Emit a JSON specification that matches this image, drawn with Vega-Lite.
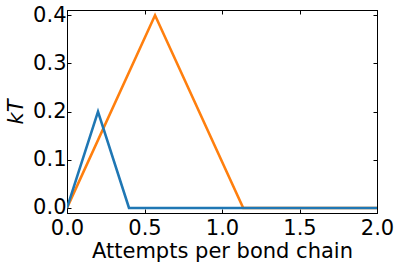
{
  "$schema": "https://vega.github.io/schema/vega-lite/v6.json",
  "width": 310,
  "height": 203,
  "autosize": "none",
  "padding": {"left": 67, "top": 10, "right": 21, "bottom": 52},
  "background": "white",
  "config": {
    "view": {"stroke": "black", "strokeWidth": 1},
    "axis": {
      "grid": false,
      "domainColor": "black",
      "domainWidth": 1,
      "tickColor": "black",
      "tickWidth": 1,
      "tickSize": -4,
      "labelFont": "DejaVu Sans",
      "labelFontSize": 21,
      "labelColor": "black",
      "titleFont": "DejaVu Sans",
      "titleFontSize": 21,
      "titleFontWeight": "normal",
      "titleColor": "black"
    }
  },
  "data": {
    "values": [
      {"x": 0, "y": 0, "s": "orange"},
      {"x": 0.568, "y": 0.4, "s": "orange"},
      {"x": 1.137, "y": 0, "s": "orange"},
      {"x": 2.0, "y": 0, "s": "orange"},
      {"x": 0, "y": 0, "s": "blue"},
      {"x": 0.2, "y": 0.2, "s": "blue"},
      {"x": 0.4, "y": 0, "s": "blue"},
      {"x": 2.0, "y": 0, "s": "blue"}
    ]
  },
  "encoding": {
    "x": {"field": "x", "type": "quantitative", "scale": {"domain": [0, 2], "nice": false, "zero": false}},
    "y": {"field": "y", "type": "quantitative", "scale": {"domain": [-0.0105, 0.411], "nice": false, "zero": false}}
  },
  "layer": [
    {
      "transform": [{"filter": "datum.s == 'orange'"}],
      "mark": {"type": "line", "color": "#ff7f0e", "strokeWidth": 2.6, "clip": true},
      "encoding": {
        "x": {"field": "x", "type": "quantitative", "axis": {"orient": "bottom", "values": [0, 0.5, 1, 1.5, 2], "format": ".1f", "title": "Attempts per bond chain", "labelPadding": 8, "titlePadding": 2, "labelFlush": false}},
        "y": {"field": "y", "type": "quantitative", "axis": {"orient": "left", "values": [0, 0.1, 0.2, 0.3, 0.4], "format": ".1f", "title": "kT", "titleFontStyle": "italic", "labelPadding": 5, "titlePadding": 6, "labelFlush": false}}
      }
    },
    {
      "transform": [{"filter": "datum.s == 'blue'"}],
      "mark": {"type": "line", "color": "#1f77b4", "strokeWidth": 2.6, "clip": true},
      "encoding": {
        "x": {"field": "x", "type": "quantitative", "axis": {"orient": "top", "values": [0, 0.5, 1, 1.5, 2], "labels": false, "title": null}},
        "y": {"field": "y", "type": "quantitative", "axis": {"orient": "right", "values": [0, 0.1, 0.2, 0.3, 0.4], "labels": false, "title": null}}
      }
    }
  ],
  "resolve": {"axis": {"x": "independent", "y": "independent"}}
}
